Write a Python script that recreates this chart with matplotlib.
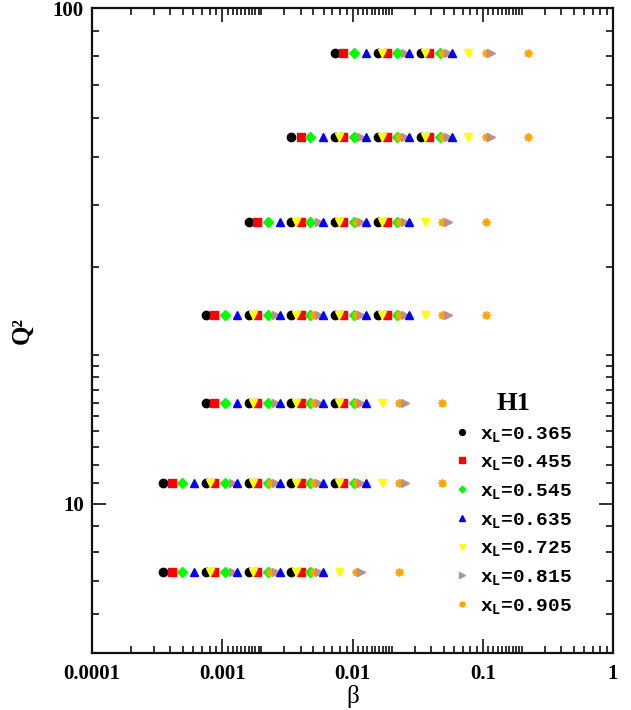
import matplotlib
matplotlib.use("Agg")
import matplotlib.pyplot as plt
from matplotlib.ticker import FixedLocator, FixedFormatter, NullFormatter
import numpy as np

plt.rcParams['mathtext.fontset'] = 'custom'
plt.rcParams['mathtext.rm'] = 'Liberation Mono:bold'
plt.rcParams['mathtext.it'] = 'Liberation Mono:bold'
plt.rcParams['mathtext.bf'] = 'Liberation Mono:bold'

# ---- data ----
q2_values = [7.3, 11, 16, 24, 37, 55, 81]
# index range of beta bins present in each Q2 row (inclusive)
row_first_bin = [0, 0, 1, 1, 2, 3, 4]
row_last_bin = [3, 4, 4, 5, 5, 6, 6]

xl_labels = ["0.365", "0.455", "0.545", "0.635", "0.725", "0.815", "0.905"]
beta_365 = [3.5e-4, 7.5e-4, 1.6e-3, 3.4e-3, 7.3e-3, 1.57e-2, 3.35e-2]
beta_455 = [4.1e-4, 8.7e-4, 1.86e-3, 4.0e-3, 8.5e-3, 1.83e-2, 3.9e-2]
beta_545 = [4.9e-4, 1.05e-3, 2.23e-3, 4.75e-3, 1.02e-2, 2.19e-2, 4.68e-2]
beta_635 = [6.1e-4, 1.3e-3, 2.78e-3, 5.9e-3, 1.27e-2, 2.73e-2, 5.83e-2]
beta_725 = [8.1e-4, 1.73e-3, 3.69e-3, 7.85e-3, 1.69e-2, 3.63e-2, 7.74e-2]
beta_815 = [1.2e-3, 2.57e-3, 5.49e-3, 1.17e-2, 2.51e-2, 5.39e-2, 0.115]
beta_905 = [2.34e-3, 5.0e-3, 1.07e-2, 2.28e-2, 4.88e-2, 0.105, 0.224]

x_tick_labels = ["0.0001", "0.001", "0.01", "0.1", "1"]
y_tick_labels = ["10", "100"]

# ---- styles ----
series = [
    (beta_365, 'o', '#000000', 6.0, 5),
    (beta_455, 's', '#ff0000', 5.6, 6),
    (beta_545, 'D', '#00ff00', 4.8, 7),
    (beta_635, '^', '#0000ff', 6.4, 10),
    (beta_725, 'v', '#ffff00', 6.4, 11),
    (beta_815, '>', '#bc8f8f', 6.4, 9),
    (beta_905, (8, 1, 0), '#ffa500', 6.0, 8),
]

fig = plt.figure(figsize=(6.31, 7.10), dpi=100)
ax = fig.add_axes([92/631, 57/710, 521/631, 645/710])

handles = []
for (betas, mk, col, ms, z) in series:
    h = None
    for q2, b0, b1 in zip(q2_values, row_first_bin, row_last_bin):
        xs = betas[b0:b1 + 1]
        ys = [q2] * len(xs)
        line, = ax.plot(xs, ys, linestyle='none', marker=mk, color=col,
                        markeredgecolor=col, markersize=ms, zorder=z)
        if h is None:
            h = line
    handles.append(h)

ax.set_xscale('log')
ax.set_yscale('log')
ax.set_xlim(1e-4, 1)
ax.set_ylim(5, 100)

# ticks
xmaj = [1e-4, 1e-3, 1e-2, 1e-1, 1]
xmin = [m * 1e-4 for m in range(2, 10)]
for d in [1e-3, 1e-2, 1e-1]:
    xmin += [d * (1 + k / 10) for k in range(1, 10)]
    xmin += [d * m for m in range(2, 10)]
ax.xaxis.set_major_locator(FixedLocator(xmaj))
ax.xaxis.set_major_formatter(FixedFormatter(x_tick_labels))
ax.xaxis.set_minor_locator(FixedLocator(xmin))
ax.xaxis.set_minor_formatter(NullFormatter())

ymaj = [10, 100]
ymin = [6, 7, 8, 9] + list(range(11, 20)) + [20, 30, 40, 50, 60, 70, 80, 90]
ax.yaxis.set_major_locator(FixedLocator(ymaj))
ax.yaxis.set_major_formatter(FixedFormatter(y_tick_labels))
ax.yaxis.set_minor_locator(FixedLocator(ymin))
ax.yaxis.set_minor_formatter(NullFormatter())

ax.tick_params(which='both', direction='in', top=True, right=True, width=1.2,
               color='#111111')
ax.tick_params(which='major', length=10)
ax.tick_params(which='minor', length=5)
ax.tick_params(axis='x', which='major', pad=8)
ax.tick_params(axis='y', which='major', pad=6)
for lab in ax.get_xticklabels() + ax.get_yticklabels():
    lab.set_fontfamily('Liberation Serif')
    lab.set_fontweight('bold')
    lab.set_fontsize(15)
for sp in ax.spines.values():
    sp.set_linewidth(1.6)
    sp.set_color('#111111')

ax.set_xlabel('β', fontfamily='Liberation Serif', fontsize=18, labelpad=1)
ax.set_ylabel('Q²', fontfamily='Liberation Serif', fontweight='bold',
              fontsize=18, labelpad=14)

leg = ax.legend(handles, [r'x$_\mathrm{L}$=' + s for s in xl_labels],
                title='H1', loc='upper left', bbox_to_anchor=(0.677, 0.42),
                frameon=False, markerscale=0.7, handlelength=0.8,
                handletextpad=0.5, labelspacing=0.5, borderpad=0,
                prop={'family': 'Liberation Mono', 'weight': 'bold',
                      'size': 14},
                title_fontproperties={'family': 'Liberation Serif',
                                      'weight': 'bold', 'size': 19})

fig.savefig('out.png', dpi=100)
